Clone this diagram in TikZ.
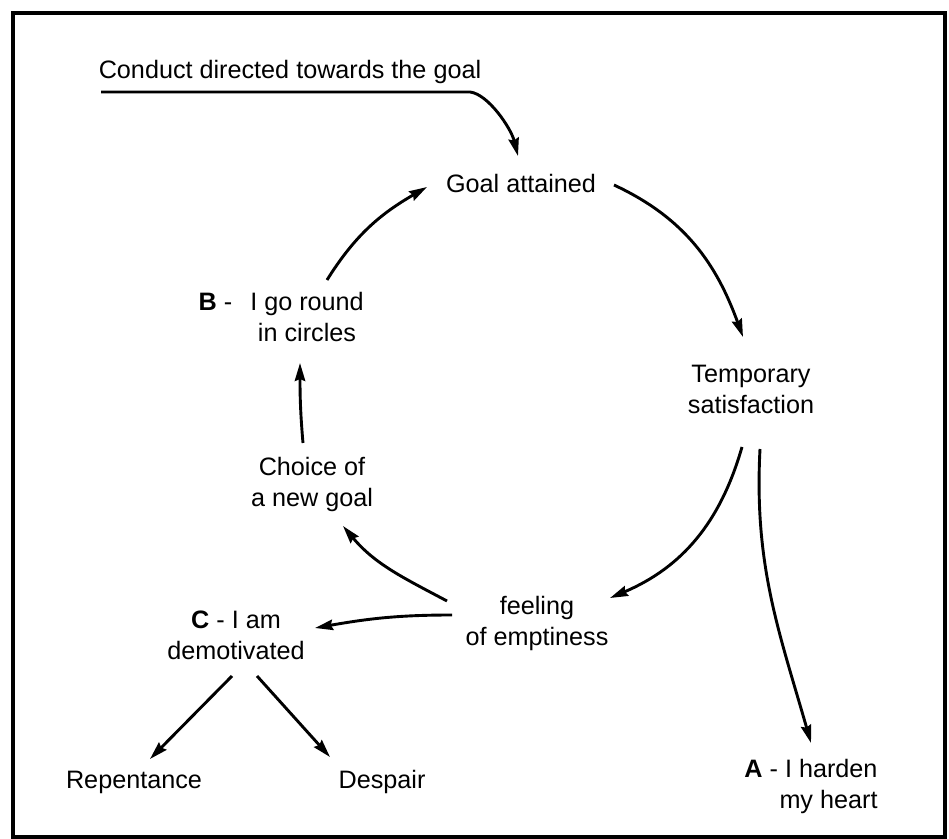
\documentclass[tikz,border=0pt]{standalone}
\usepackage{fontspec}
\setmainfont{Liberation Sans}
\usetikzlibrary{arrows.meta}
\tikzstyle{txt}=[align=center, inner sep=0pt, font=\fontsize{12.6}{15.5}\selectfont]
\tikzstyle{arr}=[-{Stealth[length=9pt,width=5.2pt,inset=1pt]}, line width=1.45pt]
\newcommand{\tag}[1]{\textbf{#1}\ -}

\begin{document}
\begin{tikzpicture}[x=0.5pt,y=0.5pt]
	\useasboundingbox (0,0) rectangle (949,-839);
	\draw[line width=2pt] (13,-13) rectangle (945,-837);

	\begin{scope}
	\node[txt] (conduct) at (290,-72) {Conduct directed towards the goal};
	\node[txt] (goal) at (521,-183) {Goal attained};
	\node[txt] (temp) at (751,-389) {Temporary\\satisfaction};
	\node[txt] (feeling) at (537,-623) {feeling\\of emptiness};
	\node[txt] (choice) at (312,-484) {Choice of\\a new goal};
	\node[txt] (round) at (307,-317) {\llap{\tag{B}\hspace{9pt}}I go round\\in circles};
	\node[txt] (demot) at (236,-635) {\tag{C} I am\\demotivated};
	\node[txt, align=right] (harden) at (811,-786) {\tag{A} I harden\\my heart};
	\node[txt] (repent) at (134,-782) {Repentance};
	\node[txt] (despair) at (382,-782) {Despair};
	\end{scope}

	\coordinate (cstart) at (101,-92);
	\coordinate (cbend) at (470,-92);
	\draw[arr] (cstart) -- (cbend) .. controls (488,-94) and (511,-128) .. ([shift={(-3,27)}]goal.center);

	\begin{scope}
	\draw[arr] ([shift={(20,37)}]round.center) to[out=58, in=210] ([shift={(-94,-4)}]goal.center);
	\draw[arr] ([shift={(93,-2)}]goal.center) to[out=-25, in=110] ([shift={(-8,52)}]temp.center);
	\draw[arr] ([shift={(-9,-58)}]temp.center) to[out=-106, in=23] ([shift={(73,25)}]feeling.center);
	\draw[arr] ([shift={(9,-60)}]temp.center) to[out=-93, in=106] ([shift={(0,43)}]harden.center);
	\draw[arr] ([shift={(-90,22)}]feeling.center) to[out=152, in=-50] ([shift={(31,-42)}]choice.center);
	\draw[arr] ([shift={(-85,8)}]feeling.center) to[out=180, in=10] ([shift={(79,7)}]demot.center);
	\draw[arr] ([shift={(-9,41)}]choice.center) to[out=95, in=-90] ([shift={(-7,-46)}]round.center);
	\draw[arr] ([shift={(-4,-41)}]demot.center) -- ([shift={(16,23)}]repent.center);
	\draw[arr] ([shift={(21,-41)}]demot.center) -- ([shift={(-52,25)}]despair.center);
	\end{scope}
\end{tikzpicture}
\end{document}
